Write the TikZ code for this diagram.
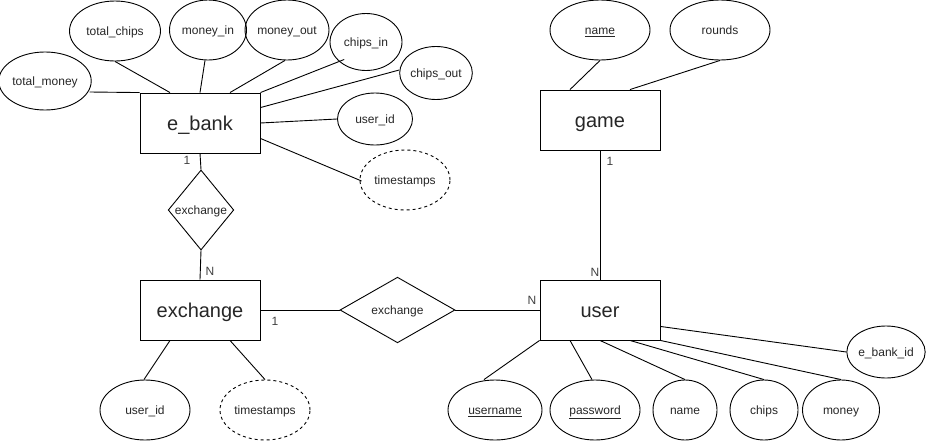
\documentclass[tikz,border=0pt]{standalone}
\usepackage{fontspec}
\setmainfont{Liberation Sans}
\usetikzlibrary{shapes.geometric}
\begin{document}
\begin{tikzpicture}[x=1pt,y=-1pt,line width=0.9pt,
  entity/.style={draw,rectangle,minimum width=120pt,minimum height=60pt,inner sep=0pt,text height=18pt,text depth=4pt,font=\fontsize{20}{24}\selectfont,text=black!85},
  attr/.style={draw,ellipse,inner sep=0pt,text height=11pt,text depth=2.6pt,font=\fontsize{12}{14}\selectfont,text=black!85},
  dattr/.style={attr,dashed,dash pattern=on 3pt off 3pt},
  rel/.style={draw,diamond,inner sep=0pt,text height=11pt,text depth=2.6pt,font=\fontsize{12}{14}\selectfont,text=black!85},
  card/.style={font=\fontsize{12}{14}\selectfont,text=black!75,inner sep=0pt}]
\useasboundingbox (0,0) rectangle (931,442);
% entities
\node[entity] (eb) at (200,123) {e\_bank};
\node[entity] (game) at (600,120) {game};
\node[entity] (ex) at (200,310) {exchange};
\node[entity] (user) at (600,310) {user};
% relationships
\node[rel,minimum width=60pt,minimum height=80pt] (r1) at (201,210) {exchange};
\node[rel,minimum width=115pt,minimum height=60pt] (r2) at (397.5,310) {exchange};
% e_bank attributes
\node[attr,minimum width=90pt,minimum height=58pt] (tm) at (45,81) {total\_money};
\node[attr,minimum width=91pt,minimum height=60pt] (tc) at (115,31) {total\_chips};
\node[attr,minimum width=77pt,minimum height=60pt] (mi) at (208,30) {money\_in};
\node[attr,minimum width=75pt,minimum height=60pt] (mo) at (287,30) {money\_out};
\node[attr,minimum width=72pt,minimum height=57pt] (ci) at (366,42) {chips\_in};
\node[attr,minimum width=71pt,minimum height=53pt] (co) at (436,73) {chips\_out};
\node[attr,minimum width=75pt,minimum height=52pt] (uid) at (375,119) {user\_id};
\node[dattr,minimum width=90pt,minimum height=60pt] (ts) at (405,180) {timestamps};
% game attributes
\node[attr,minimum width=100pt,minimum height=60pt] (gn) at (600,30) {\underline{name}};
\node[attr,minimum width=100pt,minimum height=60pt] (gr) at (720,30) {rounds};
% exchange attributes
\node[attr,minimum width=90pt,minimum height=60pt] (xuid) at (145,410) {user\_id};
\node[dattr,minimum width=90pt,minimum height=60pt] (xts) at (265,410) {timestamps};
% user attributes
\node[attr,minimum width=94pt,minimum height=60pt] (un) at (495,410) {\underline{username}};
\node[attr,minimum width=90pt,minimum height=60pt] (pw) at (595,410) {\underline{password}};
\node[attr,minimum width=64pt,minimum height=60pt] (nm) at (685,410) {name};
\node[attr,minimum width=68pt,minimum height=60pt] (ch) at (764,410) {chips};
\node[attr,minimum width=77pt,minimum height=60pt] (mn) at (841,410) {money};
\node[attr,minimum width=75pt,minimum height=52pt] (ebid) at (886,352) {e\_bank\_id};
% e_bank connectors
\draw (tm.east) ++(-2,11) coordinate (tmA) -- (eb.north west);
\draw (tc.south) -- ([xshift=-30pt]eb.north);
\draw (mi.south) ++(-3,0) coordinate (miA) -- (eb.north);
\draw (mo.south) ++(-2,0) coordinate (moA) -- ([xshift=30pt]eb.north);
\draw (ci.south west) ++(4,-3) coordinate (ciA) -- (eb.north east);
\draw (co.west) ++(0,-3) coordinate (coA) -- ([yshift=-15pt]eb.north east);
\draw (uid.west) -- (eb.east);
\draw (ts.west) ++(2,1) coordinate (tsA) -- ([yshift=15pt]eb.south east);
% relationship connectors
\draw (eb.south) -- (r1.north);
\draw (r1.south) -- (ex.north);
\draw (ex.east) -- (r2.west);
\draw (r2.east) -- (user.west);
\draw (game.south) -- (user.north);
% game connectors
\draw (gn.south) -- ([xshift=-30pt]game.north);
\draw (gr.south) -- ([xshift=30pt]game.north);
% exchange connectors
\draw ([xshift=-30pt]ex.south) -- ([xshift=-1pt]xuid.north);
\draw ([xshift=30pt]ex.south) -- (xts.north);
% user connectors
\draw (user.south west) -- ([xshift=-11pt]un.north);
\draw ([xshift=-30pt]user.south) -- ([xshift=-3pt]pw.north);
\draw (user.south) -- (nm.north);
\draw ([xshift=30pt]user.south) -- (ch.north);
\draw (user.south east) -- (mn.north);
\draw ([yshift=14pt]user.south east) -- (ebid.west);
% cardinalities
\node[card] (c1) at (187,160) {1};
\node[card] (c2) at (210,271) {N};
\node[card] (c3) at (275,321) {1};
\node[card] (c4) at (532,300) {N};
\node[card] (c5) at (595,272) {N};
\node[card] (c6) at (610,161) {1};
\end{tikzpicture}
\end{document}
